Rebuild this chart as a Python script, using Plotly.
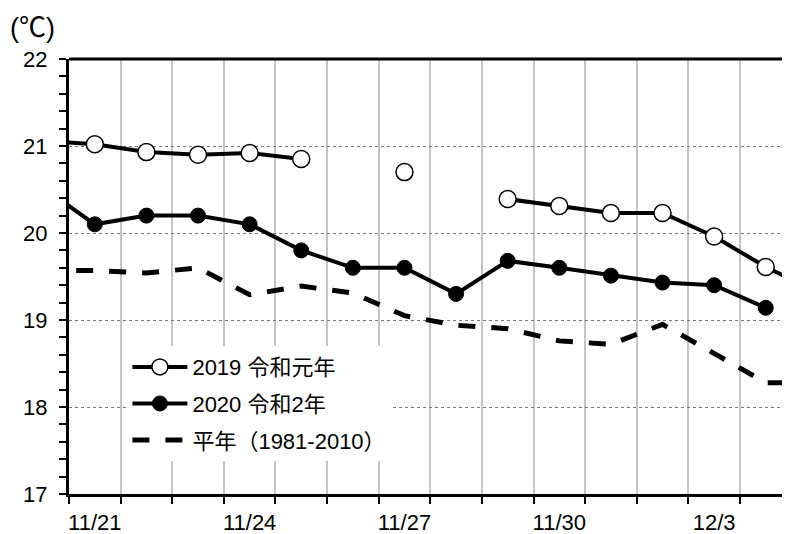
import plotly.graph_objects as go

dates = ["11/20", "11/21", "11/22", "11/23", "11/24", "11/25", "11/26", "11/27",
         "11/28", "11/29", "11/30", "12/1", "12/2", "12/3", "12/4", "12/5"]
t2019 = [21.06, 21.02, 20.93, 20.90, 20.92, 20.85, None, 20.70,
         None, 20.39, 20.31, 20.23, 20.23, 19.96, 19.61, 19.32]
t2020 = [20.52, 20.10, 20.20, 20.20, 20.10, 19.80, 19.60, 19.60,
         19.30, 19.68, 19.60, 19.51, 19.43, 19.40, 19.14, None]
normal = [19.57, 19.57, 19.54, 19.60, 19.29, 19.39, 19.31, 19.05,
          18.94, 18.90, 18.76, 18.72, 18.95, 18.61, 18.28, 18.28]
label_dates = ["11/21", "11/24", "11/27", "11/30", "12/3"]
names = ["2019 令和元年", "2020 令和2年", "平年（1981-2010）"]

xi = list(range(len(dates)))
tickvals = [dates.index(d) for d in label_dates]

FONT = "Liberation Sans, Arial, Noto Sans CJK JP, sans-serif"

fig = go.Figure()
fig.add_trace(go.Scatter(
    x=xi, y=normal, mode="lines", name=names[2], legendgroup="c", legendrank=3,
    line=dict(color="black", width=5, dash="17px,16px"),
))
fig.add_trace(go.Scatter(
    x=xi, y=t2020, mode="lines+markers", name=names[1], legendgroup="b", legendrank=2,
    line=dict(color="black", width=4),
    marker=dict(symbol="circle", size=15, color="black", line=dict(color="black", width=1)),
))
fig.add_trace(go.Scatter(
    x=xi, y=t2019, mode="lines+markers", name=names[0], legendgroup="a", legendrank=1,
    line=dict(color="black", width=4), connectgaps=False,
    marker=dict(symbol="circle", size=17, color="white", line=dict(color="black", width=1.5)),
))

# page body has an 8px margin, so the figure is sized to end at the window edge
fig.update_layout(
    width=782, height=526,
    margin=dict(l=61, r=0, t=51, b=40, autoexpand=False),
    paper_bgcolor="white", plot_bgcolor="white",
    font=dict(family=FONT, color="black", size=20),
    showlegend=True,
    legend=dict(
        x=0.081, y=0.340, xanchor="left", yanchor="top",
        bgcolor="white", borderwidth=0,
        traceorder="grouped", tracegroupgap=5,
        itemwidth=55,
        font=dict(family=FONT, size=22, color="black"),
    ),
    xaxis=dict(
        range=[0.5, 14.47], automargin=False,
        tickmode="array", tickvals=tickvals, ticktext=label_dates,
        ticks="", showgrid=False, zeroline=False,
        showline=True, linecolor="black", linewidth=3,
        tickfont=dict(family=FONT, size=22, color="black"),
        ticklabelstandoff=7,
        minor=dict(tickmode="linear", tick0=0.5, dtick=1, ticks="outside",
                   ticklen=7, tickwidth=1.5, tickcolor="black",
                   showgrid=True, gridcolor="#c4c4c4", gridwidth=1.5),
    ),
    yaxis=dict(
        range=[17, 22], tickmode="linear", tick0=17, dtick=1, automargin=False,
        ticks="outside", ticklen=7, tickwidth=1.5, tickcolor="black",
        showgrid=True, gridcolor="#7a7a7a", gridwidth=1, griddash="dot",
        zeroline=False,
        showline=True, linecolor="black", linewidth=3,
        tickfont=dict(family=FONT, size=22, color="black"),
        ticklabelstandoff=7,
        minor=dict(tickmode="linear", tick0=17, dtick=0.2, ticks="outside",
                   ticklen=7, tickwidth=1.5, tickcolor="black", showgrid=False),
    ),
    shapes=[dict(type="line", xref="paper", yref="paper", x0=0, x1=1, y0=1, y1=1,
                 line=dict(color="black", width=3))],
    annotations=[dict(text="(℃)", xref="paper", yref="paper", x=-0.085, y=1.033,
                      xanchor="left", yanchor="bottom", showarrow=False,
                      font=dict(family=FONT, size=27, color="black"))],
)

fig.write_html("out.html")
